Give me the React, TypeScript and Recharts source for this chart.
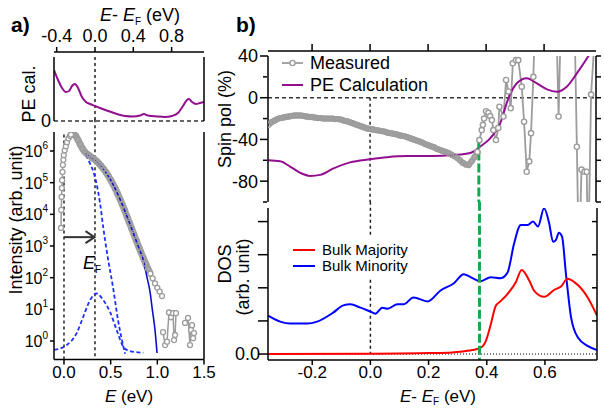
import React from 'react';
import { LineChart, Line, XAxis, YAxis, ReferenceLine } from 'recharts';

const FONT = 'Arial, "Liberation Sans", Helvetica, sans-serif';
const W = 604;
const H = 409;

// ---- panel a, top: PE calculation vs E - EF (eV)
const peCalE = [-0.428, -0.386, -0.344, -0.303, -0.271, -0.24, -0.209, -0.177, -0.136, -0.094, -0.052, 0, 0.052, 0.136, 0.23, 0.313, 0.397, 0.47, 0.51, 0.553, 0.647, 0.73, 0.804, 0.866, 0.918, 0.96, 0.981, 1.013, 1.054, 1.096, 1.138];
const peCalVal = [51, 41, 33, 29, 30, 35, 37, 33, 24, 19, 17, 15, 13, 10, 7, 5, 4.5, 5.5, 7, 5.5, 4.5, 4, 5, 8, 15, 21, 22, 19, 17, 18, 19];

// ---- panel a, bottom: intensity vs E (eV), values are log10(counts)
const fermiE = 0.332;
const riseE = [-0.032, -0.029, -0.026, -0.023, -0.02, -0.016, -0.012, -0.007, -0.002, 0.008, 0.02, 0.032, 0.048, 0.064, 0.075];
const riseLog = [3.57, 4.14, 4.55, 4.83, 5.08, 5.34, 5.56, 5.72, 5.87, 6.02, 6.15, 6.28, 6.4, 6.48, 6.52];
const bandE = [0.075, 0.1, 0.125, 0.15, 0.175, 0.2, 0.225, 0.25, 0.275, 0.3, 0.325, 0.35, 0.375, 0.4, 0.425, 0.45, 0.475, 0.5, 0.525, 0.55, 0.575, 0.6, 0.625, 0.65, 0.675, 0.7, 0.725, 0.75, 0.775, 0.8, 0.825, 0.85, 0.875, 0.9, 0.925];
const bandLog = [6.52, 6.53, 6.48, 6.35, 6.2, 6.07, 5.97, 5.9, 5.85, 5.79, 5.74, 5.68, 5.6, 5.52, 5.43, 5.33, 5.21, 5.09, 4.95, 4.81, 4.65, 4.48, 4.31, 4.13, 3.93, 3.74, 3.55, 3.36, 3.17, 2.98, 2.8, 2.62, 2.44, 2.28, 2.13];
const tailE = [0.925, 0.95, 0.975, 1.0, 1.025, 1.05, 1.055, 1.061, 1.083, 1.104, 1.125, 1.147, 1.168, 1.179, 1.19, 1.2, 1.25, 1.297, 1.329, 1.35, 1.361, 1.372, 1.383, 1.393];
const tailLog = [2.13, 1.98, 1.82, 1.68, 1.56, 1.42, null, 0.28, -0.13, -0.02, 0.9, 0.75, 0.88, 0.03, 0.19, 0.88, null, 0.57, 0.73, -0.13, 0.35, 0.5, 0.09, 0.25];
const fitE = [0.225, 0.279, 0.386, 0.493, 0.6, 0.707, 0.8, 0.85, 0.89, 0.922, 0.943, 0.975, 0.997];
const fitLog = [5.94, 5.81, 5.56, 5.12, 4.48, 3.69, 2.95, 2.55, 2.0, 1.55, 1.07, 0.35, -0.38];
const edgeE = [0.236, 0.28, 0.32, 0.35, 0.386, 0.42, 0.461, 0.525, 0.579, 0.654];
const edgeLog = [5.87, 5.6, 5.3, 4.95, 4.36, 3.6, 2.78, 1.7, 0.66, -0.4];
const gaussE = [-0.104, 0.029, 0.136, 0.207, 0.279, 0.35, 0.421, 0.493, 0.564, 0.636, 0.707, 0.85];
const gaussLog = [-0.28, -0.13, 0.25, 0.77, 1.29, 1.5, 1.29, 0.92, 0.35, -0.18, -0.32, -0.37];
const decades = [1, 10, 100, 1e3, 1e4, 1e5, 1e6];

// ---- panel b, top: spin polarisation (%) vs E - EF (eV)
const measBandE = [-0.35, -0.34, -0.33, -0.32, -0.31, -0.3, -0.29, -0.28, -0.27, -0.26, -0.25, -0.24, -0.23, -0.22, -0.21, -0.2, -0.19, -0.18, -0.17, -0.16, -0.15, -0.14, -0.13, -0.12, -0.11, -0.1, -0.09, -0.08, -0.07, -0.06, -0.05, -0.04, -0.03, -0.02, -0.01, 0, 0.01, 0.02, 0.03, 0.04, 0.05, 0.06, 0.07, 0.08, 0.09, 0.1, 0.11, 0.12, 0.13, 0.14, 0.15, 0.16, 0.17, 0.18, 0.19, 0.2, 0.21, 0.22, 0.23, 0.24, 0.25, 0.26, 0.27, 0.28, 0.29, 0.3, 0.31, 0.32, 0.33, 0.34, 0.35, 0.36, 0.37];
const measBandVal = [-26, -23.5, -22, -20.5, -19.5, -19, -18.5, -18, -17.5, -17, -17, -17, -17.5, -18, -18.5, -18.5, -19, -19.5, -19.5, -20, -20, -20, -20, -20.5, -20.5, -21, -22, -22.5, -23.5, -24.5, -25.5, -26.5, -27.5, -28.5, -29.5, -30, -30.5, -31, -31.5, -32, -32.5, -33.5, -34, -34.5, -35, -36, -36.5, -37, -38, -39, -40, -41, -42, -43, -44.5, -45.5, -46.5, -47.5, -49, -50, -51, -52, -53, -54.5, -56, -57.5, -60, -62.5, -64, -64.5, -61, -57, -52];
const measE = [0.37, 0.377, 0.385, 0.389, 0.393, 0.4, 0.408, 0.414, 0.42, 0.425, 0.434, 0.442, 0.446, 0.46, 0.469, 0.477, 0.485, 0.492, 0.503, 0.511, 0.523, 0.531, 0.54, 0.549, 0.555, 0.563, 0.575, 0.64, 0.65, 0.66, 0.7, 0.713, 0.72, 0.729, 0.739, 0.747, 0.752, 0.762, 0.775];
const measVal = [-52, -40.6, -31, -26, -20, -13, -14.5, -17.6, -21.4, -31, -40.6, -29, -8.6, -18, 17, 6, -10, 33, 36, 36, 10.6, -23, -71, -61, -34, 20, 140, 100, -18, 100, 150, -47, -160, -69, -71, -71, -160, 3, 60];
const peCalcE = [-0.352, -0.31, -0.276, -0.241, -0.207, -0.172, -0.128, -0.069, 0, 0.059, 0.128, 0.217, 0.286, 0.345, 0.379, 0.414, 0.448, 0.477, 0.506, 0.54, 0.575, 0.61, 0.644, 0.678, 0.713, 0.753, 0.78];
const peCalcVal = [-60, -61, -66, -72, -75, -74, -68, -62, -59, -57, -56, -56, -55, -53, -47, -39, -25, -0.6, 13.8, 18.6, 13.8, 8, 5.8, 10.6, 23.4, 40, 52];

// ---- panel b, bottom: bulk DOS (arb. unit) vs E - EF (eV)
const minE = [-0.352, -0.31, -0.276, -0.217, -0.183, -0.128, -0.093, -0.069, -0.034, 0, 0.017, 0.041, 0.059, 0.093, 0.114, 0.148, 0.197, 0.241, 0.286, 0.321, 0.345, 0.379, 0.414, 0.448, 0.472, 0.493, 0.517, 0.541, 0.559, 0.576, 0.597, 0.614, 0.628, 0.638, 0.648, 0.659, 0.672, 0.69, 0.714, 0.748, 0.779];
const minVal = [1.16, 0.98, 0.92, 0.92, 0.98, 1.25, 1.47, 1.5, 1.4, 1.28, 1.22, 1.4, 1.37, 1.5, 1.5, 1.71, 1.59, 1.92, 2.13, 2.41, 2.32, 2.2, 2.32, 2.29, 2.47, 3.3, 3.9, 3.9, 4.0, 3.85, 4.4, 3.97, 3.39, 3.45, 3.66, 3.54, 2.44, 1.1, 0.49, 0.24, 0.12];
const majE = [-0.352, 0, 0.2, 0.28, 0.31, 0.35, 0.379, 0.397, 0.414, 0.431, 0.443, 0.471, 0.5, 0.52, 0.546, 0.563, 0.598, 0.632, 0.655, 0.678, 0.701, 0.747, 0.779];
const majVal = [0, 0.01, 0.03, 0.05, 0.07, 0.12, 0.19, 0.4, 0.9, 1.46, 1.56, 1.81, 2.17, 2.54, 2.22, 1.91, 1.73, 1.94, 2.04, 2.27, 2.17, 1.71, 1.16];

const bDomain: [number, number] = [-0.352, 0.779];
const bTicks = [-0.2, 0, 0.2, 0.4, 0.6];
const spinEdge = 0.375;

const zip = (xs: number[], ys: (number | null)[]) => xs.map((x, i) => ({ x, y: ys[i] }));
const zipLog = (xs: number[], ys: (number | null)[]) =>
  xs.map((x, i) => ({ x, y: ys[i] === null ? null : Math.pow(10, ys[i] as number) }));

const axisLine = { stroke: '#000', strokeWidth: 1.5 };
const tickFont = { fontSize: 18, fill: '#000', fontFamily: FONT };
const tickFontB = { fontSize: 17, fill: '#000', fontFamily: FONT };
const blank = () => '';
const fmt1 = (v: number) => v.toFixed(1);
const GREY = '#9c9c9c';
const PURPLE = '#930f8f';
const GREEN = '#1aa84f';

const box: React.CSSProperties = { position: 'absolute', left: 0, top: 0 };

function LogTick(props: any) {
  const { x, y, payload } = props;
  const e = Math.round(Math.log10(payload.value));
  return (
    <text x={x} y={y + 6} textAnchor="end" fontSize={16} fill="#000" fontFamily={FONT}>
      10<tspan dy={-8} fontSize={10}>{e}</tspan>
    </text>
  );
}

function Arrow(props: any) {
  const { x1, y1, x2, y2 } = props;
  return (
    <g stroke="#333" strokeWidth={2} fill="none">
      <line x1={x1} y1={y1} x2={x2} y2={y2} />
      <polyline points={`${x2 - 9},${y2 - 6} ${x2},${y2} ${x2 - 9},${y2 + 6}`} />
    </g>
  );
}

function PanelATop() {
  const dom: [number, number] = [-0.428, 1.138];
  return (
    <div style={box}>
      <LineChart width={W} height={H} margin={{ top: 50, left: 53, right: 399, bottom: 288 }}>
        <XAxis xAxisId="pad" orientation="top" type="number" domain={dom} allowDataOverflow height={5} tick={false} tickLine={false} axisLine={false} />
        <XAxis xAxisId="t" orientation="top" type="number" dataKey="x" domain={dom} allowDataOverflow height={1} ticks={[-0.4, 0, 0.4, 0.8]} tickSize={5} tickMargin={5} tickFormatter={fmt1} tick={tickFont} axisLine={axisLine} tickLine={axisLine} />
        <XAxis xAxisId="tm" orientation="top" type="number" domain={dom} allowDataOverflow height={1} ticks={[-0.2, 0.2, 0.6, 1.0]} tickSize={3} tickFormatter={blank} axisLine={false} tickLine={axisLine} />
        <YAxis yAxisId="l" type="number" domain={[0, 64]} allowDataOverflow width={1} ticks={[0]} tickSize={0} tickMargin={3} tick={tickFont} axisLine={axisLine} />
        <YAxis yAxisId="r" orientation="right" type="number" domain={[0, 64]} allowDataOverflow width={1} tick={false} axisLine={axisLine} />
        <ReferenceLine xAxisId="t" yAxisId="l" y={0} stroke="#333" strokeWidth={1.5} strokeDasharray="4 3" />
        <ReferenceLine xAxisId="t" yAxisId="l" x={0} stroke="#222" strokeWidth={1.5} strokeDasharray="3 3" />
        <Line xAxisId="t" yAxisId="l" data={zip(peCalE, peCalVal)} dataKey="y" type="monotone" stroke={PURPLE} strokeWidth={2} dot={false} isAnimationActive={false} />
      </LineChart>
    </div>
  );
}

function PanelABottom() {
  const dom: [number, number] = [-0.107, 1.5];
  const yDom: [number, number] = [Math.pow(10, -0.584), Math.pow(10, 6.6)];
  const ax = { xAxisId: 'b', yAxisId: 'l' };
  return (
    <div style={box}>
      <LineChart width={W} height={H} margin={{ top: 132, left: 53, right: 399, bottom: 47.5 }}>
        <XAxis xAxisId="b" type="number" dataKey="x" domain={dom} allowDataOverflow height={1} ticks={[0, 0.5, 1, 1.5]} tickSize={5} tickMargin={1} tickFormatter={fmt1} tick={tickFontB} axisLine={axisLine} tickLine={axisLine} />
        <XAxis xAxisId="bm" type="number" domain={dom} allowDataOverflow height={1} ticks={[0.25, 0.75, 1.25]} tickSize={3} tickFormatter={blank} axisLine={false} tickLine={axisLine} />
        <YAxis yAxisId="l" type="number" scale="log" domain={yDom} allowDataOverflow width={1} ticks={decades} tickSize={4} tickMargin={2} tick={<LogTick />} axisLine={axisLine} tickLine={axisLine} />
        <YAxis yAxisId="r" orientation="right" type="number" scale="log" domain={yDom} allowDataOverflow width={1} tick={false} axisLine={axisLine} />
        <ReferenceLine {...ax} x={0} stroke="#222" strokeWidth={1.5} strokeDasharray="3 3" />
        <ReferenceLine {...ax} segment={[{ x: fermiE, y: Math.pow(10, 7.0) }, { x: fermiE, y: yDom[0] }]} ifOverflow="visible" stroke="#222" strokeWidth={1.5} strokeDasharray="3 3" />
        <ReferenceLine {...ax} segment={[{ x: 0, y: Math.pow(10, 3.28) }, { x: fermiE - 0.005, y: Math.pow(10, 3.28) }]} shape={<Arrow />} />
        <Line {...ax} data={zipLog(gaussE, gaussLog)} dataKey="y" type="monotone" stroke="#1f2fff" strokeWidth={1.8} strokeDasharray="4 2.5" dot={false} isAnimationActive={false} />
        <Line {...ax} data={zipLog(bandE, bandLog)} dataKey="y" type="monotone" stroke="#a8a8a8" strokeWidth={7} dot={{ r: 2.5, stroke: GREY, strokeWidth: 1.3, fill: 'none' }} isAnimationActive={false} />
        <Line {...ax} data={zipLog(riseE, riseLog)} dataKey="y" type="linear" stroke={GREY} strokeWidth={1.5} dot={{ r: 2.5, stroke: GREY, strokeWidth: 1.3, fill: '#fff' }} isAnimationActive={false} />
        <Line {...ax} data={zipLog(tailE, tailLog)} dataKey="y" type="linear" stroke={GREY} strokeWidth={1.5} dot={{ r: 2.5, stroke: GREY, strokeWidth: 1.3, fill: '#fff' }} isAnimationActive={false} />
        <Line {...ax} data={zipLog(edgeE, edgeLog)} dataKey="y" type="monotone" stroke="#1f2fff" strokeWidth={1.8} strokeDasharray="4 2.5" dot={false} isAnimationActive={false} />
        <Line {...ax} data={zipLog(fitE, fitLog)} dataKey="y" type="monotone" stroke="#1010c8" strokeWidth={1.6} dot={false} isAnimationActive={false} />
      </LineChart>
    </div>
  );
}

function PanelBTop() {
  const yDom: [number, number] = [-100, 40];
  const ax = { xAxisId: 't', yAxisId: 'l' };
  return (
    <div style={box}>
      <LineChart width={W} height={H} margin={{ top: 50, left: 266, right: 7, bottom: 207 }}>
        <XAxis xAxisId="pad" orientation="top" type="number" domain={bDomain} allowDataOverflow height={5} tick={false} tickLine={false} axisLine={false} />
        <XAxis xAxisId="t" orientation="top" type="number" dataKey="x" domain={bDomain} allowDataOverflow height={1} ticks={bTicks} tickSize={7} tickFormatter={blank} axisLine={axisLine} tickLine={axisLine} />
        <YAxis yAxisId="l" type="number" domain={yDom} allowDataOverflow width={1} ticks={[40, 0, -40, -80]} tickSize={8} tickMargin={2} tick={tickFont} axisLine={axisLine} tickLine={axisLine} />
        <YAxis yAxisId="lm" type="number" domain={yDom} allowDataOverflow width={1} ticks={[20, -20, -60, -100]} tickSize={4} tickFormatter={blank} axisLine={false} tickLine={axisLine} />
        <YAxis yAxisId="r" orientation="right" type="number" domain={yDom} allowDataOverflow width={1} ticks={[40, 20, 0, -20, -40, -60, -80, -100]} tickSize={5} tickFormatter={blank} axisLine={axisLine} tickLine={axisLine} />
        <ReferenceLine {...ax} y={0} stroke="#333" strokeWidth={1.5} strokeDasharray="4 3" />
        <ReferenceLine {...ax} segment={[{ x: 0, y: 0 }, { x: 0, y: -100 }]} stroke="#222" strokeWidth={1.5} strokeDasharray="3 3" />
        <Line {...ax} data={zip(measBandE, measBandVal)} dataKey="y" type="linear" stroke="#a8a8a8" strokeWidth={6} dot={{ r: 2.5, stroke: GREY, strokeWidth: 1.3, fill: 'none' }} isAnimationActive={false} />
        <Line {...ax} data={zip(measE, measVal)} dataKey="y" type="linear" stroke={GREY} strokeWidth={1.8} dot={{ r: 2.6, stroke: GREY, strokeWidth: 1.4, fill: '#fff' }} isAnimationActive={false} />
        <Line {...ax} data={zip(peCalcE, peCalcVal)} dataKey="y" type="monotone" stroke={PURPLE} strokeWidth={2} dot={false} isAnimationActive={false} />
        <ReferenceLine {...ax} segment={[{ x: spinEdge, y: -40 }, { x: spinEdge, y: -100 }]} stroke={GREEN} strokeWidth={3} strokeDasharray="9 3" />
      </LineChart>
    </div>
  );
}

function PanelBBottom() {
  const yDom: [number, number] = [-0.18, 4.41];
  const ax = { xAxisId: 'b', yAxisId: 'l' };
  return (
    <div style={box}>
      <LineChart width={W} height={H} margin={{ top: 208, left: 267, right: 7, bottom: 48 }}>
        <XAxis xAxisId="b" type="number" dataKey="x" domain={bDomain} allowDataOverflow height={1} ticks={bTicks} tickSize={5} tickMargin={1} tickFormatter={fmt1} tick={tickFontB} axisLine={axisLine} tickLine={axisLine} />
        <YAxis yAxisId="l" type="number" domain={yDom} allowDataOverflow width={1} ticks={[0, 1, 2, 3, 4]} tickSize={10} tickMargin={-2} tickFormatter={(v: number) => (v === 0 ? '0.0' : '')} tick={tickFont} axisLine={axisLine} tickLine={axisLine} />
        <YAxis yAxisId="r" orientation="right" mirror type="number" domain={yDom} allowDataOverflow width={1} ticks={[1, 2, 3, 4]} tickSize={5} tickFormatter={blank} axisLine={axisLine} tickLine={axisLine} />
        <ReferenceLine {...ax} y={0} stroke="#000" strokeWidth={1} strokeDasharray="1 2" />
        <ReferenceLine {...ax} segment={[{ x: 0, y: 4.6 }, { x: 0, y: 0 }]} ifOverflow="visible" stroke="#222" strokeWidth={1.5} strokeDasharray="3 3" />
        <Line {...ax} data={zip(minE, minVal)} dataKey="y" type="monotone" stroke="#0000ff" strokeWidth={2} dot={false} isAnimationActive={false} />
        <Line {...ax} data={zip(majE, majVal)} dataKey="y" type="monotone" stroke="#ff0000" strokeWidth={2} dot={false} isAnimationActive={false} />
        <ReferenceLine {...ax} segment={[{ x: spinEdge, y: 4.6 }, { x: spinEdge, y: yDom[0] }]} ifOverflow="visible" stroke={GREEN} strokeWidth={3} strokeDasharray="9 3" />
      </LineChart>
    </div>
  );
}

function Overlay() {
  const t = { fontFamily: FONT, fill: '#000' };
  return (
    <svg width={W} height={H} style={{ ...box, pointerEvents: 'none' }}>
      <text x={11} y={32} fontSize={21} fontWeight="bold" {...t}>a)</text>
      <text x={236} y={32} fontSize={21} fontWeight="bold" {...t}>b)</text>

      <text x={140} y={21} fontSize={18} textAnchor="middle" {...t}>
        <tspan fontStyle="italic">E</tspan>{'- '}<tspan fontStyle="italic">E</tspan>
        <tspan fontSize={10} dy={4}>F</tspan><tspan dy={-4}>{' (eV)'}</tspan>
      </text>
      <text transform="translate(35,94) rotate(-90)" fontSize={18} textAnchor="middle" {...t}>PE cal.</text>
      <text transform="translate(22,220) rotate(-90)" fontSize={18} textAnchor="middle" {...t}>Intensity (arb. unit)</text>
      <text x={129} y={402} fontSize={17} textAnchor="middle" {...t}>
        <tspan fontStyle="italic">E</tspan>{' (eV)'}
      </text>
      <text x={83} y={269} fontSize={18} {...t}>
        <tspan fontStyle="italic">E</tspan><tspan fontSize={10} dy={4}>F</tspan>
      </text>

      <text transform="translate(231,119) rotate(-90)" fontSize={18} textAnchor="middle" {...t}>Spin pol (%)</text>
      <text transform="translate(231,264) rotate(-90)" fontSize={18} textAnchor="middle" {...t}>DOS</text>
      <text transform="translate(249,277) rotate(-90)" fontSize={18} textAnchor="middle" {...t}>(arb. unit)</text>
      <text x={438} y={402} fontSize={17} textAnchor="middle" {...t}>
        <tspan fontStyle="italic">E</tspan>{'- '}<tspan fontStyle="italic">E</tspan>
        <tspan fontSize={10} dy={3}>F</tspan><tspan dy={-3}>{' (eV)'}</tspan>
      </text>

      <line x1={282} y1={63} x2={303} y2={63} stroke={GREY} strokeWidth={1.8} />
      <circle cx={292.5} cy={63} r={2.6} stroke={GREY} strokeWidth={1.4} fill="#fff" />
      <text x={310} y={69} fontSize={18} {...t}>Measured</text>
      <line x1={282} y1={85} x2={303} y2={85} stroke={PURPLE} strokeWidth={2} />
      <text x={310} y={91} fontSize={18} {...t}>PE Calculation</text>

      <rect x={286} y={235} width={142} height={44} fill="#fff" />
      <line x1={293} y1={250} x2={315} y2={250} stroke="#ff0000" strokeWidth={2} />
      <text x={322} y={255} fontSize={15} {...t}>Bulk Majority</text>
      <line x1={293} y1={266} x2={315} y2={266} stroke="#0000ff" strokeWidth={2} />
      <text x={322} y={271} fontSize={15} {...t}>Bulk Minority</text>
    </svg>
  );
}

export default function App() {
  return (
    <div style={{ position: 'absolute', left: 0, top: 0, width: W, height: H, background: '#fff', fontFamily: FONT, overflow: 'hidden' }}>
      <PanelATop />
      <PanelABottom />
      <PanelBTop />
      <PanelBBottom />
      <Overlay />
    </div>
  );
}
